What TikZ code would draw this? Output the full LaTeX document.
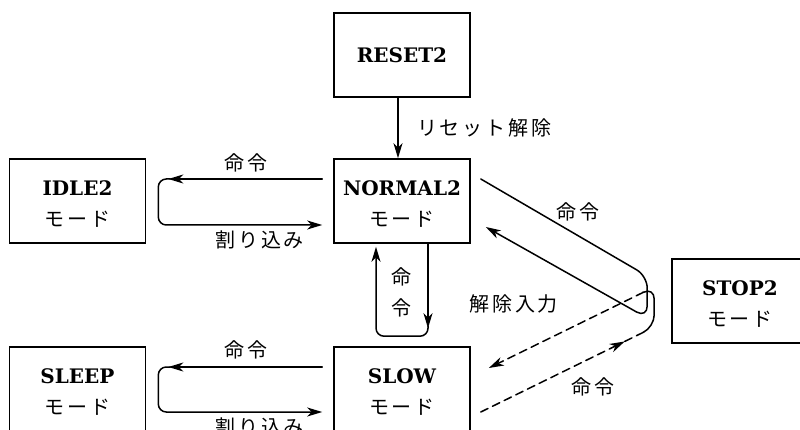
\documentclass[tikz,border=0pt]{standalone}
\usepackage{fontspec}
\newfontfamily\jp[LetterSpace=14]{Noto Sans CJK JP}
\newfontfamily\en{DejaVu Serif}
\usetikzlibrary{arrows.meta, calc}

\tikzset{
  modebox/.style={draw, line width=1.6pt, minimum width=136pt, minimum height=84pt, inner sep=0pt},
  conn/.style={line width=1.5pt, -{Stealth[length=15pt, width=9pt, inset=4.5pt]}},
  dashconn/.style={line width=1.5pt, dash pattern=on 8pt off 5pt},
  entext/.style={font=\en\bfseries\fontsize{20}{24}\selectfont, inner sep=1pt},
  jptext/.style={font=\jp\fontsize{20}{24}\selectfont, inner sep=1pt},
}

\newcommand{\ModeBox}[4]{%
  \node[modebox] (#1) at (#2) {};
  \node[entext] (#1en) at ($ (#1.center)+(0,-13) $) {#3};
  \node[jptext] (#1jp) at ($ (#1.center)+(0,18) $) {#4};
}

\begin{document}
\begin{tikzpicture}[x=1pt, y=-1pt, line cap=round]
  \useasboundingbox (0,0) rectangle (800,430);

  % modes
  \node[modebox, entext] (RESET2) at (402,55) {RESET2};
  \ModeBox{IDLE2}{77.5,201}{IDLE2}{モード}
  \ModeBox{NORMAL2}{402,201}{NORMAL2}{モード}
  \ModeBox{SLEEP}{77.5,389}{SLEEP}{モード}
  \ModeBox{SLOW}{402,389}{SLOW}{モード}
  \ModeBox{STOP2}{740,301}{STOP2}{モード}

  % hairpin corners next to STOP2
  \coordinate (a1) at ($ (NORMAL2.east)+(10,-22) $);
  \coordinate (a2) at ($ (NORMAL2.east)+(15,26) $);
  \coordinate (ac1) at ($ (STOP2.west)+(-24,-25) $);
  \coordinate (ac2) at ($ (STOP2.west)+(-24,17) $);
  \coordinate (b1) at ($ (SLOW.east)+(10,23) $);
  \coordinate (b2) at ($ (SLOW.east)+(18,-21) $);
  \coordinate (bc1) at ($ (STOP2.west)+(-17,26) $);
  \coordinate (bc2) at ($ (STOP2.west)+(-17,-14) $);
  \coordinate (bs1) at ($ (bc1)!12pt!(b1) $);
  \coordinate (bs2) at ($ (bc2)!12pt!(b2) $);
  \coordinate (bm) at ($ (b1)!0.83!(bc1) $);

  % reset
  \draw[conn] ($ (RESET2.south)+(-4,0) $) -- ($ (NORMAL2.north)+(-4,0) $);
  \node[jptext, anchor=west] (resetLbl) at ($ (RESET2.south)!0.5!(NORMAL2.north)+(14,0) $) {リセット解除};

  % NORMAL2 <-> IDLE2
  \draw[conn] ($ (NORMAL2.west)+(-11,-22) $) -- ($ (IDLE2.east)+(22,-22) $);
  \draw[conn, rounded corners=8pt] ($ (IDLE2.east)+(24,-22) $) -- ($ (IDLE2.east)+(12,-22) $)
    -- ($ (IDLE2.east)+(12,24) $) -- ($ (NORMAL2.west)+(-11,24) $);
  \node[jptext] (cmdIdle) at ($ (NORMAL2.west)!0.5!(IDLE2.east)+(6,-38) $) {命令};
  \node[jptext] (intIdle) at ($ (NORMAL2.west)!0.5!(IDLE2.east)+(20,39) $) {割り込み};

  % SLOW <-> SLEEP
  \draw[conn] ($ (SLOW.west)+(-11,-22) $) -- ($ (SLEEP.east)+(22,-22) $);
  \draw[conn, rounded corners=8pt] ($ (SLEEP.east)+(24,-22) $) -- ($ (SLEEP.east)+(12,-22) $)
    -- ($ (SLEEP.east)+(12,23) $) -- ($ (SLOW.west)+(-11,23) $);
  \node[jptext] (cmdSleep) at ($ (SLOW.west)!0.5!(SLEEP.east)+(6,-39) $) {命令};
  \node[jptext] (intSleep) at ($ (SLOW.west)!0.5!(SLEEP.east)+(20,38) $) {割り込み};

  % NORMAL2 <-> SLOW
  \draw[conn] ($ (NORMAL2.south)+(26,0) $) -- ($ (SLOW.north)+(26,-18) $);
  \draw[conn, rounded corners=8pt] ($ (SLOW.north)+(26,-20) $) -- ($ (SLOW.north)+(26,-10) $)
    -- ($ (SLOW.north)+(-26,-10) $) -- ($ (NORMAL2.south)+(-26,3) $);
  \node[jptext, align=center, font=\jp\fontsize{20}{31}\selectfont] (cmdV)
    at ($ (NORMAL2.south)!0.5!(SLOW.north)+(-1,-3) $) {命\\令};

  % NORMAL2 <-> STOP2
  \draw[conn, rounded corners=12pt] (a1) -- (ac1) -- (ac2) -- (a2);
  \node[jptext] (cmdStop) at ($ (NORMAL2.east)+(107,11) $) {命令};
  \node[jptext] (relInput) at ($ (NORMAL2.south east)+(43,60) $) {解除入力};

  % SLOW <-> STOP2
  \draw[dashconn, conn] (b1) -- (bm);
  \draw[dashconn] (bm) -- (bs1);
  \draw[line width=1.5pt, rounded corners=12pt] (bs1) -- (bc1) -- (bc2) -- (bs2);
  \draw[dashconn, conn] (bs2) -- (b2);
  \node[jptext] (cmdSlowStop) at ($ (SLOW.east)+(122,-2) $) {命令};

\end{tikzpicture}
\end{document}
